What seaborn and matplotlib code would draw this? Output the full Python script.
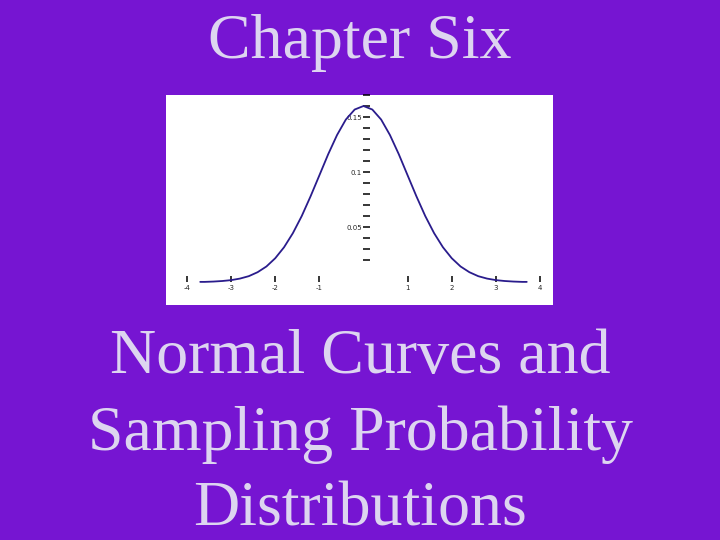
import matplotlib
matplotlib.use("Agg")
import matplotlib.pyplot as plt
import seaborn as sns
import pandas as pd

# Curve values
x_vals = [-3.7, -3.6, -3.4, -3.2, -3.0, -2.8, -2.6, -2.4, -2.2, -2.0, -1.8, -1.6, -1.4,
          -1.2, -1.0, -0.8, -0.6, -0.4, -0.2, 0.0, 0.2, 0.4, 0.6, 0.8, 1.0, 1.2, 1.4,
          1.6, 1.8, 2.0, 2.2, 2.4, 2.6, 2.8, 3.0, 3.2, 3.4, 3.6, 3.7]
y_vals = [0.0002, 0.0002, 0.0005, 0.0010, 0.0018, 0.0032, 0.0054, 0.0090, 0.0142, 0.0217,
          0.0317, 0.0445, 0.0600, 0.0779, 0.0970, 0.1162, 0.1336, 0.1477, 0.1568, 0.1600,
          0.1568, 0.1477, 0.1336, 0.1162, 0.0970, 0.0779, 0.0600, 0.0445, 0.0317, 0.0217,
          0.0142, 0.0090, 0.0054, 0.0032, 0.0018, 0.0010, 0.0005, 0.0002, 0.0002]
x_ticks = [-4, -3, -2, -1, 1, 2, 3, 4]
x_tick_labels = ["-4", "-3", "-2", "-1", "1", "2", "3", "4"]
y_ticks = [0.02, 0.03, 0.04, 0.05, 0.06, 0.07, 0.08, 0.09, 0.10, 0.11, 0.12, 0.13,
           0.14, 0.15, 0.16, 0.17]
y_tick_labels = ["", "", "", "0.05", "", "", "", "", "0.1", "", "", "", "", "0.15", "", ""]

title_text = "Chapter Six"
subtitle_lines = ["Normal Curves and", "Sampling Probability", "Distributions"]

BG = "#7615D2"
TXT = "#DDD5F0"

sns.set_style("white")
plt.rcParams["axes.unicode_minus"] = False

fig = plt.figure(figsize=(7.2, 5.4), dpi=100, facecolor=BG)
ax = fig.add_axes([166 / 720, 1 - 305 / 540, 387 / 720, 210 / 540])
ax.set_facecolor("white")

df = pd.DataFrame({"x": x_vals, "y": y_vals})
sns.lineplot(data=df, x="x", y="y", ax=ax, color="#2A1C8C", linewidth=1.3, sort=False)

ax.set_xlim(-4.476, 4.295)
ax.set_ylim(-0.0208, 0.169)
ax.set_xlabel("")
ax.set_ylabel("")

for s in ["top", "right"]:
    ax.spines[s].set_visible(False)
ax.spines["left"].set_position(("data", 0))
ax.spines["bottom"].set_position(("data", 0))
ax.spines["left"].set_visible(False)
ax.spines["bottom"].set_visible(False)

ax.set_xticks(x_ticks)
ax.set_xticklabels(x_tick_labels)
ax.set_yticks(y_ticks)
ax.set_yticklabels(y_tick_labels)
ax.tick_params(axis="x", direction="in", length=4, width=1.1, color="black",
               labelsize=5, pad=2, bottom=True)
ax.tick_params(axis="y", direction="in", length=5, width=1.1, color="black",
               labelsize=5, pad=1, left=True)
for t in ax.yaxis.get_major_ticks():
    t.tick1line.set_clip_on(False)

fig.text(0.5, 1 - 57.7 / 540, title_text, ha="center", va="baseline",
         fontsize=46, color=TXT, family="Liberation Serif")
baselines = [372.7, 450.0, 525.0]
for line, b in zip(subtitle_lines, baselines):
    fig.text(0.5, 1 - b / 540, line, ha="center", va="baseline",
             fontsize=46, color=TXT, family="Liberation Serif")

fig.savefig("out.png", dpi=100, facecolor=BG)
